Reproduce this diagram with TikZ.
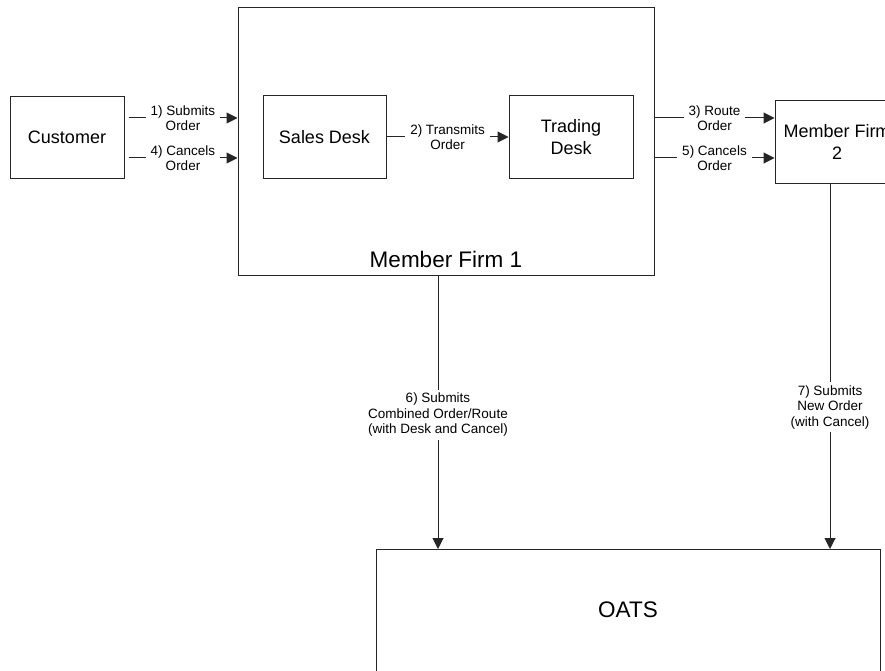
\documentclass[tikz,border=0pt]{standalone}
\usepackage{fontspec}
\setmainfont{Liberation Sans}
\usetikzlibrary{arrows.meta,calc}
\begin{document}
\begin{tikzpicture}[x=1pt,y=-1pt,
  box/.style={draw=black!85, line width=1pt, rectangle, inner sep=0pt, align=center,
    font=\fontsize{18}{22}\selectfont},
  biglbl/.style={inner sep=0pt, font=\fontsize{22.5}{26}\selectfont},
  lbl/.style={fill=white, inner xsep=5pt, inner ysep=3pt, align=center,
    font=\fontsize{13.5}{15.5}\selectfont},
  arr/.style={draw=black!85, line width=1pt, -{Triangle[length=11pt,width=11pt]}}]
\useasboundingbox (0,0) rectangle (885,671);
\clip (0,0) rectangle (885,671);
\fill[white] (0,0) rectangle (885,671);
% boxes
\node[box, minimum width=114, minimum height=81] (cust) at (67,137.5) {Customer};
\node[box, minimum width=416, minimum height=267] (mf1) at (446,141.5) {};
\node[biglbl] (mf1t) at (446,259) {Member Firm 1};
\node[box, minimum width=123, minimum height=82] (sales) at (324.5,137) {Sales Desk};
\node[box, minimum width=124, minimum height=82] (trade) at (571,137) {Trading\\Desk};
\node[box, minimum width=124, minimum height=82] (mf2) at (837,142) {Member Firm\\2};
\node[box, minimum width=504, minimum height=200, anchor=north] (oats) at (628,549) {};
\node[biglbl] (oatst) at (628,610) {OATS};
% helper coordinates
\coordinate (ya) at (0,118);
\coordinate (yb) at (0,158);
\coordinate (c6) at (438,0);
\coordinate (c7) at (830,0);
% horizontal connectors
\draw[arr] ($(cust.east |- ya)+(4,0)$) -- node[lbl]{1) Submits\\Order} (mf1.west |- ya);
\draw[arr] ($(cust.east |- yb)+(4,0)$) -- node[lbl]{4) Cancels\\Order} (mf1.west |- yb);
\draw[arr] (sales.east) -- node[lbl]{2) Transmits\\Order} (trade.west);
\draw[arr] (mf1.east |- ya) -- node[lbl]{3) Route\\Order} (mf2.west |- ya);
\draw[arr] (mf1.east |- yb) -- node[lbl]{5) Cancels\\Order} (mf2.west |- yb);
% vertical connectors
\draw[arr] (mf1.south -| c6) -- node[lbl, pos=0.51]{6) Submits\\Combined Order/Route\\(with Desk and Cancel)} (oats.north -| c6);
\draw[arr] (mf2.south -| c7) -- node[lbl, pos=0.612]{7) Submits\\New Order\\(with Cancel)} (oats.north -| c7);
\end{tikzpicture}
\end{document}
